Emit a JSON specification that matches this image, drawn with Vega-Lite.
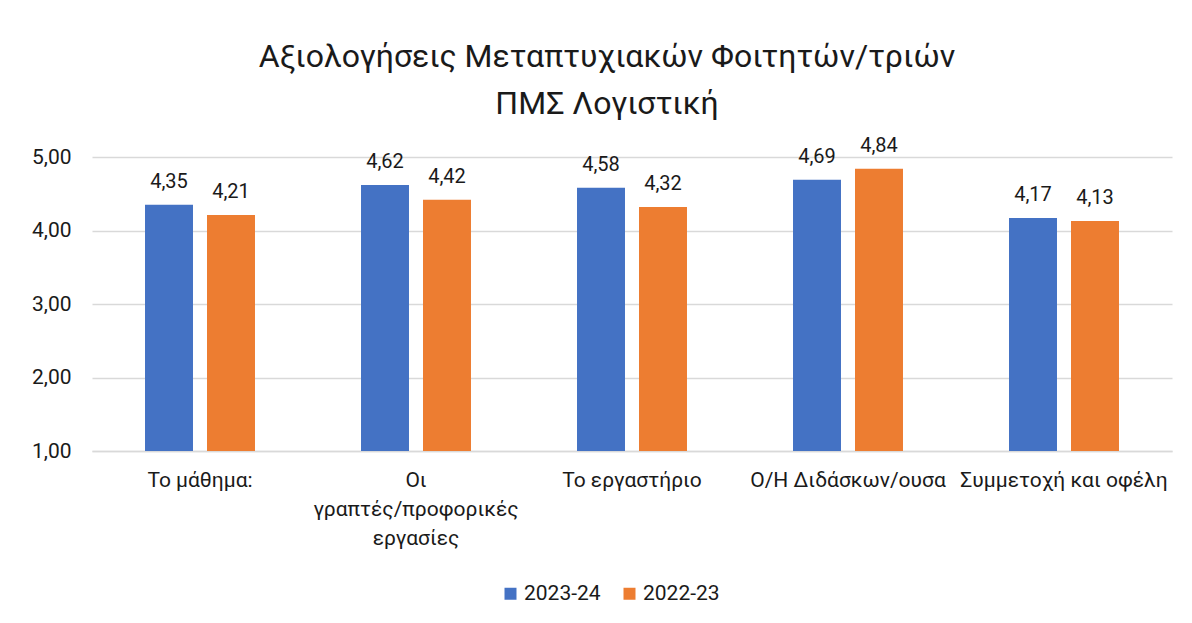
{
  "$schema": "https://vega.github.io/schema/vega-lite/v6.json",
  "autosize": {"type": "none"},
  "width": 1080,
  "height": 294,
  "padding": {"left": 92, "top": 157, "right": 20, "bottom": 172},
  "background": "white",
  "title": {
    "text": ["Αξιολογήσεις Μεταπτυχιακών Φοιτητών/τριών", "ΠΜΣ Λογιστική"],
    "fontSize": 32,
    "fontWeight": "normal",
    "font": "Roboto",
    "color": "#1a1a1a",
    "lineHeight": 47,
    "frame": "group",
    "anchor": "middle",
    "dx": -25,
    "offset": 15
  },
  "data": {
    "values": [
      {"category": "Το μάθημα:", "year": "2023-24", "value": 4.35},
      {"category": "Το μάθημα:", "year": "2022-23", "value": 4.21},
      {"category": "Οι γραπτές/προφορικές εργασίες", "year": "2023-24", "value": 4.62},
      {"category": "Οι γραπτές/προφορικές εργασίες", "year": "2022-23", "value": 4.42},
      {"category": "Το εργαστήριο", "year": "2023-24", "value": 4.58},
      {"category": "Το εργαστήριο", "year": "2022-23", "value": 4.32},
      {"category": "Ο/Η Διδάσκων/ουσα", "year": "2023-24", "value": 4.69},
      {"category": "Ο/Η Διδάσκων/ουσα", "year": "2022-23", "value": 4.84},
      {"category": "Συμμετοχή και οφέλη", "year": "2023-24", "value": 4.17},
      {"category": "Συμμετοχή και οφέλη", "year": "2022-23", "value": 4.13}
    ]
  },
  "encoding": {
    "x": {
      "field": "category",
      "type": "nominal",
      "sort": null,
      "scale": {"paddingInner": 0, "paddingOuter": 0},
      "axis": {
        "title": null,
        "labelAngle": 0,
        "labelFontSize": 21,
        "labelFont": "Roboto",
        "labelColor": "#1a1a1a",
        "labelPadding": 18,
        "labelLimit": 400,
        "labelOverlap": false,
        "labelBound": false,
        "labelLineHeight": 29,
        "ticks": false,
        "domain": true,
        "domainColor": "#d9d9d9",
        "domainWidth": 1.5,
        "labelExpr": "datum.label == 'Οι γραπτές/προφορικές εργασίες' ? ['Οι', 'γραπτές/προφορικές', 'εργασίες'] : datum.label"
      }
    },
    "xOffset": {
      "field": "year",
      "type": "nominal",
      "sort": ["2023-24", "2022-23"],
      "scale": {"paddingInner": 0.226, "paddingOuter": 0.855}
    },
    "y": {
      "field": "value",
      "type": "quantitative",
      "scale": {"domain": [1, 5], "zero": false, "nice": false},
      "axis": {
        "title": null,
        "values": [1, 2, 3, 4, 5],
        "labelExpr": "replace(format(datum.value, '.2f'), '.', ',')",
        "labelFontSize": 21,
        "labelFont": "Roboto",
        "labelColor": "#1a1a1a",
        "labelPadding": 21,
        "domain": false,
        "ticks": false,
        "grid": true,
        "gridColor": "#d9d9d9",
        "gridWidth": 1.5
      }
    }
  },
  "layer": [
    {
      "mark": {"type": "bar"},
      "encoding": {
        "y2": {"datum": 1},
        "color": {
          "field": "year",
          "type": "nominal",
          "scale": {"domain": ["2023-24", "2022-23"], "range": ["#4472C4", "#ED7D31"]},
          "legend": {
            "title": null,
            "orient": "none",
            "direction": "horizontal",
            "legendX": 408,
            "legendY": 426,
            "symbolType": "square",
            "symbolSize": 144,
            "symbolStrokeWidth": 0,
            "labelFontSize": 21,
            "labelFont": "Roboto",
            "labelColor": "#1a1a1a",
            "labelOffset": 3,
            "columnPadding": 18
          }
        }
      }
    },
    {
      "mark": {"type": "text", "baseline": "alphabetic", "dy": -17, "fontSize": 20, "font": "Roboto", "color": "#1a1a1a"},
      "encoding": {
        "text": {"field": "value", "type": "quantitative", "format": ".2f"}
      }
    }
  ],
  "config": {
    "view": {"stroke": null},
    "locale": {"number": {"decimal": ",", "thousands": ".", "grouping": [3], "currency": ["", " €"]}}
  }
}
